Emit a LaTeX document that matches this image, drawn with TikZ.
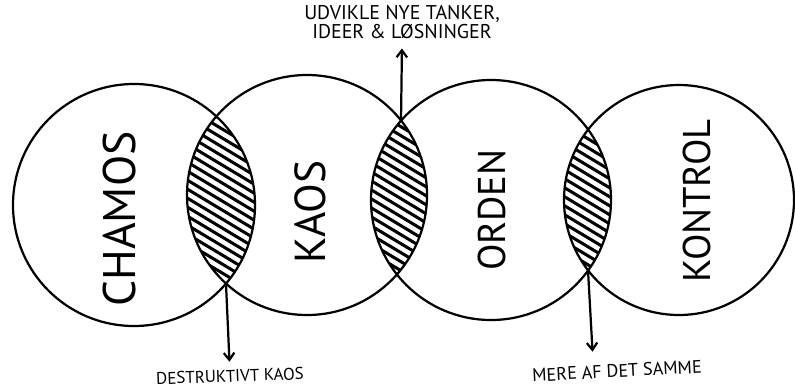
\documentclass[tikz,border=0pt]{standalone}
\usepackage{fontspec}
\setmainfont{PT Sans}
\usetikzlibrary{arrows.meta}

\begin{document}
\begin{tikzpicture}[x=0.03cm,y=-0.03cm,line width=1.9pt,>={Straight Barb[length=6pt,width=9pt]},
  word/.style={rotate=90,font=\fontsize{#1}{#1}\selectfont},
  note/.style={font=\fontsize{#1}{17}\selectfont,align=center,inner sep=3pt},
  hatch/.style={line width=2.6pt}]
\useasboundingbox (0,0) rectangle (795,390);
\foreach \xa/\ya/\ra/\xb/\yb/\rb in {134/205/121/307/195/120,307/195/120/491/200/120,491/200/120/679/200/115} {
  \begin{scope}
  \clip (\xa,\ya) circle[radius=\ra];
  \clip (\xb,\yb) circle[radius=\rb];
  \foreach \k in {-15,...,15} {\draw[hatch] ({(\xa+\xb)/2-70},{(\ya+\yb)/2+\k*9-42}) -- ({(\xa+\xb)/2+70},{(\ya+\yb)/2+\k*9+42});}
  \end{scope}
}
\foreach \x/\y/\r in {134/205/121,307/195/120,491/200/120,679/200/115} {\draw (\x,\y) circle[radius=\r];}
\node[word=39] (chamos) at (120,219) {CHAMOS};
\node[word=37] (kaos) at (310,212) {KAOS};
\node[word=33] (orden) at (492,210) {ORDEN};
\node[word=33] (kontrol) at (697,201) {KONTROL};
\coordinate (ck) at (226,284);
\coordinate (ko) at (401,121);
\coordinate (ok) at (588,270);
\node[note=17] (udvikle) at (402,22) {UDVIKLE NYE TANKER,\\ IDEER \& LØSNINGER};
\node[note=14.5,rotate=2] (destruktiv) at (230,376) {DESTRUKTIVT KAOS};
\node[note=15.5,rotate=3] (mere) at (617,371) {MERE AF DET SAMME};
\draw[->,shorten >=4pt] (ko) -- (udvikle.south);
\draw[->,shorten >=3pt] (ck) -- (destruktiv.north);
\draw[->,shorten >=7pt] (ok) -- ([xshift=-20pt]mere.north);
\end{tikzpicture}
\end{document}
